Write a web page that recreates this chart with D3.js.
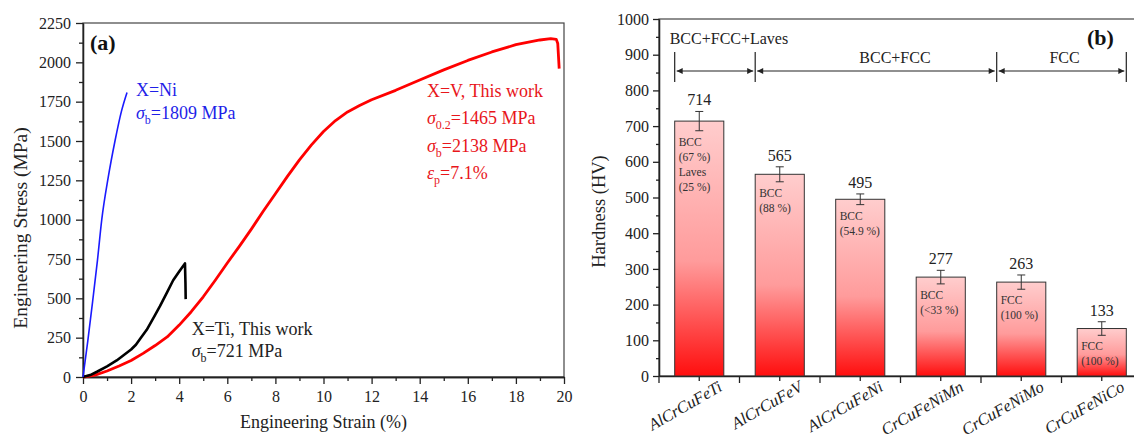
<!DOCTYPE html>
<html>
<head>
<meta charset="utf-8">
<script src="https://cdn.jsdelivr.net/npm/d3@7"></script>
<style>
  body { margin: 0; background: #fff; }
  svg { display: block; font-family: "Liberation Serif", "Times New Roman", serif; }
</style>
</head>
<body>
<svg id="chart" width="1134" height="438"></svg>
<script>
// ---- panel (a): tensile curves, [strain %, stress MPa]
const niCurve = [[0,0],[0.2,230],[0.4,480],[0.6,740],[0.78,1000],[1.05,1270],[1.33,1500],[1.6,1690],[1.83,1809]];
const tiCurve = [[0,0],[0.3,12],[0.6,35],[1,68],[1.4,105],[1.7,140],[2,175],[2.2,205],[2.4,248],[2.65,300],[3,395],[3.2,450],[3.5,540],[3.75,615],[4,670],[4.24,722],[4.26,600],[4.27,495]];
const vCurve = [[0,0],[0.5,12],[1,38],[1.5,70],[2,105],[2.5,150],[3,200],[3.5,255],[4,330],[4.5,415],[5,510],[5.5,615],[6,725],[6.5,830],[7,940],[7.5,1055],[8,1165],[8.5,1275],[9,1380],[9.5,1475],[10,1560],[10.5,1630],[11,1685],[11.5,1725],[12,1762],[13,1822],[14,1888],[15,1952],[16,2012],[17,2066],[18,2112],[19,2142],[19.45,2150],[19.68,2146],[19.74,2120],[19.8,1960]];
const strainTicks = d3.range(0, 21, 2);
const strainMinor = d3.range(1, 20, 2);
const stressTicks = d3.range(0, 2251, 250);
const stressMinor = d3.range(125, 2250, 250);

// ---- panel (b): hardness
const alloys = ["AlCrCuFeTi", "AlCrCuFeV", "AlCrCuFeNi", "CrCuFeNiMn", "CrCuFeNiMo", "CrCuFeNiCo"];
const hardness = [714, 565, 495, 277, 263, 133];
const hardnessErr = [27, 21, 15, 19, 20, 19];
const phaseNotes = [
  ["BCC", "(67 %)", "Laves", "(25 %)"],
  ["BCC", "(88 %)"],
  ["BCC", "(54.9 %)"],
  ["BCC", "(<33 %)"],
  ["FCC", "(100 %)"],
  ["FCC", "(100 %)"]
];
const phaseGroups = [
  { label: "BCC+FCC+Laves", from: 0, to: 0 },
  { label: "BCC+FCC", from: 1, to: 3 },
  { label: "FCC", from: 4, to: 5 }
];
const hardnessTicks = d3.range(0, 1001, 100);
const hardnessMinor = d3.range(50, 1000, 100);

const svg = d3.select("#chart");
svg.append("rect").attr("width", 1134).attr("height", 438).attr("fill", "#fff");

const axisColor = "#222";
const serif = '"Liberation Serif", "Times New Roman", serif';

function styleAxis(g, fontSize) {
  g.attr("font-family", serif).attr("font-size", fontSize);
  g.selectAll("path, line").attr("stroke", axisColor).attr("stroke-width", 1.3);
  g.selectAll("text").attr("fill", axisColor);
}

// ================= panel (a) =================
const xA = d3.scaleLinear().domain([0, 20]).range([83, 564]);
const yA = d3.scaleLinear().domain([0, 2250]).range([377, 23]);

const gA = svg.append("g");

gA.append("rect")
  .attr("x", xA(0)).attr("y", yA(2250))
  .attr("width", xA(20) - xA(0)).attr("height", yA(0) - yA(2250))
  .attr("fill", "none").attr("stroke", "#444").attr("stroke-width", 1.2);

gA.append("g").attr("transform", `translate(0,${yA(0)})`)
  .call(d3.axisBottom(xA).tickValues(strainMinor).tickSize(4).tickFormat("").tickSizeOuter(0))
  .call(g => styleAxis(g, 16));
gA.append("g").attr("transform", `translate(0,${yA(0)})`)
  .call(d3.axisBottom(xA).tickValues(strainTicks).tickSize(7).tickPadding(7).tickSizeOuter(0).tickFormat(d3.format("d")))
  .call(g => styleAxis(g, 16));
gA.append("g").attr("transform", `translate(${xA(0)},0)`)
  .call(d3.axisLeft(yA).tickValues(stressMinor).tickSize(4).tickFormat("").tickSizeOuter(0))
  .call(g => styleAxis(g, 16));
gA.append("g").attr("transform", `translate(${xA(0)},0)`)
  .call(d3.axisLeft(yA).tickValues(stressTicks).tickSize(7).tickPadding(5).tickSizeOuter(0).tickFormat(d3.format("d")))
  .call(g => styleAxis(g, 16));

const lineA = d3.line().x(d => xA(d[0])).y(d => yA(d[1]));
const smoothA = d3.line().x(d => xA(d[0])).y(d => yA(d[1])).curve(d3.curveMonotoneX);

gA.append("path").datum(vCurve).attr("d", lineA)
  .attr("fill", "none").attr("stroke", "#ff0000").attr("stroke-width", 2.8).attr("stroke-linejoin", "round");
gA.append("path").datum(tiCurve).attr("d", lineA)
  .attr("fill", "none").attr("stroke", "#000").attr("stroke-width", 2.6).attr("stroke-linejoin", "round");
gA.append("path").datum(niCurve).attr("d", smoothA)
  .attr("fill", "none").attr("stroke", "#1a1aff").attr("stroke-width", 1.6).attr("stroke-linejoin", "round");

gA.append("text").attr("x", 90).attr("y", 50)
  .style("font-size", "22px").style("font-weight", "bold").attr("fill", "#111").text("(a)");

gA.append("text")
  .attr("x", (xA(0) + xA(20)) / 2).attr("y", 428)
  .attr("text-anchor", "middle").style("font-size", "18px").attr("fill", axisColor)
  .text("Engineering Strain (%)");
gA.append("text")
  .attr("transform", `translate(27,${(yA(0) + yA(2250)) / 2 + 28}) rotate(-90)`)
  .attr("text-anchor", "middle").style("font-size", "19.5px").attr("fill", axisColor)
  .text("Engineering Stress (MPa)");

// annotation lines: plain text, or [symbol, subscript, rest]
function annotate(x, y, lines, color, step) {
  const t = gA.append("text").attr("fill", color).style("font-size", "18px");
  lines.forEach((ln, i) => {
    const yy = y + i * step;
    if (typeof ln === "string") {
      t.append("tspan").attr("x", x).attr("y", yy).text(ln);
    } else {
      t.append("tspan").attr("x", x).attr("y", yy).style("font-style", "italic").text(ln[0]);
      t.append("tspan").attr("dy", 5).style("font-size", "12px").text(ln[1]);
      t.append("tspan").attr("dy", -5).text(ln[2]);
    }
  });
}
annotate(xA(2.2), yA(1786), ["X=Ni", ["σ", "b", "=1809 MPa"]], "#1f1fe8", 23);
annotate(xA(14.3), yA(1780), ["X=V, This work", ["σ", "0.2", "=1465 MPa"], ["σ", "b", "=2138 MPa"], ["ε", "p", "=7.1%"]], "#e8161b", 27.5);
annotate(xA(4.52), yA(267), ["X=Ti, This work", ["σ", "b", "=721 MPa"]], "#222", 22.5);

// ================= panel (b) =================
const xB = d3.scaleBand().domain(alloys).range([659, 659 + 6 * 80.5])
  .paddingInner(0.39).paddingOuter(0.195);
const yB = d3.scaleLinear().domain([0, 1000]).range([376, 19]);
const step = xB.step();

const defs = svg.append("defs");
const grad = defs.append("linearGradient").attr("id", "barGrad")
  .attr("x1", 0).attr("y1", 0).attr("x2", 0).attr("y2", 1);
grad.append("stop").attr("offset", "0%").attr("stop-color", "#ffcdcd");
grad.append("stop").attr("offset", "55%").attr("stop-color", "#ff9b9b");
grad.append("stop").attr("offset", "100%").attr("stop-color", "#ff0e0e");

defs.append("marker").attr("id", "arrow")
  .attr("viewBox", "0 0 10 10").attr("refX", 10).attr("refY", 5)
  .attr("markerWidth", 8).attr("markerHeight", 6).attr("markerUnits", "userSpaceOnUse")
  .attr("orient", "auto-start-reverse")
  .append("path").attr("d", "M0,0L10,5L0,10z").attr("fill", "#222");

const gB = svg.append("g");

// frame (right edge runs off the picture)
gB.append("rect")
  .attr("x", 659).attr("y", yB(1000))
  .attr("width", 6 * 80.5).attr("height", yB(0) - yB(1000))
  .attr("fill", "none").attr("stroke", "#444").attr("stroke-width", 1.2);

gB.append("g").attr("transform", `translate(659,0)`)
  .call(d3.axisLeft(yB).tickValues(hardnessMinor).tickSize(3).tickFormat("").tickSizeOuter(0))
  .call(g => styleAxis(g, 16));
gB.append("g").attr("transform", `translate(659,0)`)
  .call(d3.axisLeft(yB).tickValues(hardnessTicks).tickSize(6).tickPadding(4).tickSizeOuter(0).tickFormat(d3.format("d")))
  .call(g => styleAxis(g, 16));

// bottom axis: centre ticks + boundary ticks
const xAxisB = gB.append("g").attr("transform", `translate(0,${yB(0)})`)
  .call(d3.axisBottom(xB).tickSize(5).tickFormat("").tickSizeOuter(0))
  .call(g => styleAxis(g, 16));
xAxisB.selectAll(".bnd").data(d3.range(alloys.length + 1)).join("line")
  .attr("class", "bnd")
  .attr("x1", i => 659 + i * step).attr("x2", i => 659 + i * step)
  .attr("y1", 0).attr("y2", 7).attr("stroke", axisColor).attr("stroke-width", 1.3);

gB.selectAll(".cat").data(alloys).join("text")
  .attr("class", "cat")
  .attr("transform", d => `translate(${xB(d) + xB.bandwidth() / 2 + 24},390) rotate(-30)`)
  .attr("text-anchor", "end").style("font-size", "16.5px").style("font-style", "italic")
  .attr("fill", axisColor).text(d => d);

const bars = gB.selectAll(".bar").data(alloys).join("g").attr("class", "bar");
bars.append("rect")
  .attr("x", d => xB(d)).attr("width", xB.bandwidth())
  .attr("y", (d, i) => yB(hardness[i])).attr("height", (d, i) => yB(0) - yB(hardness[i]))
  .attr("fill", "url(#barGrad)").attr("stroke", "#333").attr("stroke-width", 1);

const cx = d => xB(d) + xB.bandwidth() / 2;
bars.append("line")
  .attr("x1", cx).attr("x2", cx)
  .attr("y1", (d, i) => yB(hardness[i] + hardnessErr[i]))
  .attr("y2", (d, i) => yB(hardness[i] - hardnessErr[i]))
  .attr("stroke", "#333").attr("stroke-width", 1);
[1, -1].forEach(s => {
  bars.append("line")
    .attr("x1", d => cx(d) - 4).attr("x2", d => cx(d) + 4)
    .attr("y1", (d, i) => yB(hardness[i] + s * hardnessErr[i]))
    .attr("y2", (d, i) => yB(hardness[i] + s * hardnessErr[i]))
    .attr("stroke", "#333").attr("stroke-width", 1);
});
bars.append("text")
  .attr("x", cx).attr("y", (d, i) => yB(hardness[i] + hardnessErr[i]) - 6)
  .attr("text-anchor", "middle").style("font-size", "16px").attr("fill", axisColor)
  .text((d, i) => hardness[i]);

bars.each(function (d, i) {
  const t = d3.select(this).append("text")
    .style("font-size", "11.5px").attr("fill", "#333");
  phaseNotes[i].forEach((ln, j) => {
    t.append("tspan").attr("x", xB(d) + 4)
      .attr("y", yB(hardness[i] - hardnessErr[i]) + 15 + j * 15).text(ln);
  });
});

// phase brackets across the top
const bounds = phaseGroups.map(g => xB(alloys[g.from]))
  .concat([xB(alloys[phaseGroups[phaseGroups.length - 1].to]) + xB.bandwidth()]);
const arrowY = 71;
gB.selectAll(".bv").data(bounds).join("line").attr("class", "bv")
  .attr("x1", d => d).attr("x2", d => d).attr("y1", 52).attr("y2", 82)
  .attr("stroke", "#222").attr("stroke-width", 1.2);
phaseGroups.forEach((g, i) => {
  gB.append("line")
    .attr("x1", bounds[i] + 2).attr("x2", bounds[i + 1] - 2)
    .attr("y1", arrowY).attr("y2", arrowY)
    .attr("stroke", "#222").attr("stroke-width", 1.2)
    .attr("marker-start", "url(#arrow)").attr("marker-end", "url(#arrow)");
});
gB.append("text").attr("x", bounds[0] - 5).attr("y", 44)
  .style("font-size", "16px").attr("fill", axisColor).text(phaseGroups[0].label);
gB.append("text").attr("x", (bounds[1] + bounds[2]) / 2 + 19).attr("y", 63)
  .attr("text-anchor", "middle").style("font-size", "16px").attr("fill", axisColor).text(phaseGroups[1].label);
gB.append("text").attr("x", (bounds[2] + bounds[3]) / 2 + 3).attr("y", 63)
  .attr("text-anchor", "middle").style("font-size", "16px").attr("fill", axisColor).text(phaseGroups[2].label);

gB.append("text").attr("x", 1087).attr("y", 45)
  .style("font-size", "22px").style("font-weight", "bold").attr("fill", "#111").text("(b)");

gB.append("text")
  .attr("transform", `translate(605,${(yB(0) + yB(1000)) / 2 + 14}) rotate(-90)`)
  .attr("text-anchor", "middle").style("font-size", "18.5px").attr("fill", axisColor)
  .text("Hardness (HV)");
</script>
</body>
</html>
